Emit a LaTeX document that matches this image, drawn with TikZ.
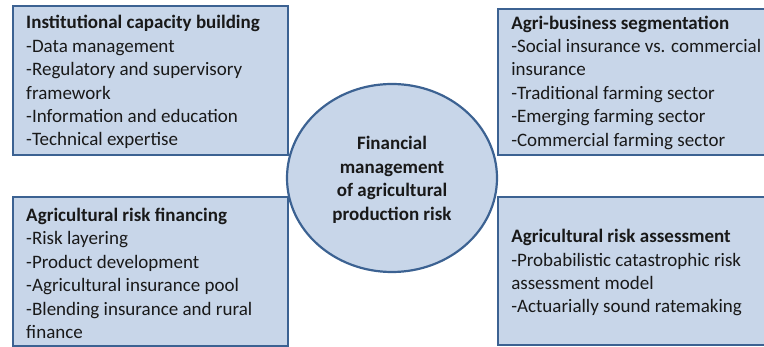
\documentclass[tikz,border=0pt]{standalone}
\usepackage{fontspec}
\setmainfont{Carlito}
\usetikzlibrary{shapes.geometric}
\definecolor{boxfill}{RGB}{200,214,233}
\definecolor{boxline}{RGB}{60,98,146}
\definecolor{txtcol}{RGB}{25,25,25}
\tikzset{
  panel/.style={draw=boxline, fill=boxfill, line width=1.9pt, rectangle, inner sep=0pt},
  core/.style={draw=boxline, fill=boxfill, line width=2.2pt, ellipse, inner sep=0pt},
  txt/.style={align=left, inner sep=0pt, text=txtcol, font=\fontsize{19}{23.4}\selectfont},
  ctxt/.style={align=center, inner sep=0pt, text=txtcol, font=\bfseries\fontsize{19}{23.4}\selectfont}
}
\begin{document}
\begin{tikzpicture}[x=1pt,y=-1pt]
\useasboundingbox (0,0) rectangle (764,347);
\node[panel, minimum width=275pt, minimum height=149pt] (b1) at (150.5,80.5) {};
\node[panel, minimum width=282pt, minimum height=146pt] (b3) at (639,82) {};
\node[panel, minimum width=275pt, minimum height=149pt] (b2) at (150.5,271.5) {};
\node[panel, minimum width=282pt, minimum height=148pt] (b4) at (639,271) {};
\node[core, minimum width=210pt, minimum height=188pt] (c) at (392,178) {};
\node[txt, anchor=west] (t1) at ([xshift=14pt,yshift=-1.8pt]b1.west) {\textbf{Institutional capacity building}\\-Data management\\-Regulatory and supervisory\\framework\\-Information and education\\-Technical expertise};
\node[txt, anchor=west] (t3) at ([xshift=14pt,yshift=-0.5pt]b3.west) {\textbf{Agri-business segmentation}\\-Social insurance vs. commercial\\insurance\\-Traditional farming sector\\-Emerging farming sector\\-Commercial farming sector};
\node[txt, anchor=west] (t2) at ([xshift=14pt,yshift=-1.8pt]b2.west) {\textbf{Agricultural risk financing}\\-Risk layering\\-Product development\\-Agricultural insurance pool\\-Blending insurance and rural\\finance};
\node[txt, anchor=west] (t4) at ([xshift=14pt,yshift=-1.8pt]b4.west) {\textbf{Agricultural risk assessment}\\-Probabilistic catastrophic risk\\assessment model\\-Actuarially sound ratemaking};
\node[ctxt] (tc) at ([yshift=-1.8pt]c.center) {Financial\\management\\of agricultural\\production risk};
\end{tikzpicture}
\end{document}
